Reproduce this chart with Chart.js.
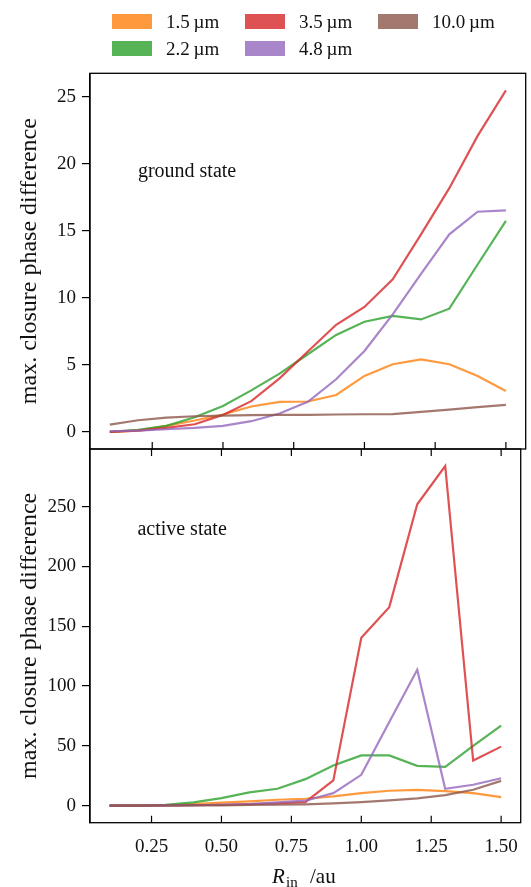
<!DOCTYPE html>
<html lang="en">
<head>
<meta charset="UTF-8">
<title>Closure phase difference vs inner radius</title>
<script src="https://cdn.jsdelivr.net/npm/chart.js"></script>
<style>
  body { margin: 0; background: #fff; }
  #wrap { position: relative; width: 531px; height: 887px; font-family: "Liberation Serif", serif; color: #111; }
  canvas { position: absolute; left: 0; }
  .sw { position: absolute; width: 40px; height: 15px; }
  .lab { position: absolute; font-size: 19px; line-height: 19px; white-space: nowrap; }
</style>
</head>
<body>
<div id="wrap">
  <canvas id="top" width="531" height="480" style="top:0"></canvas>
  <canvas id="bottom" width="531" height="467" style="top:420px"></canvas>
  <div id="legend"></div>
</div>
<script>
// inner rim radius (au)
const radii = [0.1, 0.2, 0.3, 0.4, 0.5, 0.6, 0.7, 0.8, 0.9, 1.0, 1.1, 1.2, 1.3, 1.4, 1.5];
const waves = ["1.5", "2.2", "3.5", "4.8", "10.0"];
const colors = ["255,127,14", "44,160,44", "214,39,40", "148,103,189", "140,86,75"];

// ground state
const ground15 = [0.0, 0.1, 0.45, 0.85, 1.3, 1.9, 2.24, 2.27, 2.76, 4.18, 5.05, 5.42, 5.05, 4.18, 3.06];
const ground22 = [0.0, 0.15, 0.45, 1.1, 1.94, 3.1, 4.35, 5.8, 7.24, 8.23, 8.66, 8.4, 9.2, 12.5, 15.75];
const ground35 = [0.0, 0.1, 0.3, 0.57, 1.27, 2.3, 4.0, 6.0, 8.0, 9.33, 11.4, 14.75, 18.2, 22.1, 25.5];
const ground48 = [0.05, 0.1, 0.2, 0.3, 0.45, 0.8, 1.37, 2.25, 3.93, 6.04, 8.78, 11.8, 14.75, 16.44, 16.54];
const ground100 = [0.55, 0.87, 1.07, 1.17, 1.22, 1.25, 1.27, 1.28, 1.3, 1.32, 1.33, 1.5, 1.67, 1.85, 2.02];

// active state
const active15 = [0.0, 0.3, 0.6, 1.4, 2.5, 3.6, 5.0, 5.8, 7.8, 10.5, 12.5, 13.3, 12.2, 10.5, 7.2];
const active22 = [0.0, 0.1, 0.8, 2.8, 6.4, 11.1, 14.2, 22.2, 33.6, 42.0, 42.0, 33.3, 32.5, 50.0, 67.0];
const active35 = [0.0, 0.1, 0.2, 0.4, 0.8, 1.3, 2.0, 3.0, 21.1, 140.3, 166.0, 252.0, 284.0, 37.8, 49.4];
const active48 = [0.0, 0.1, 0.2, 0.4, 0.8, 1.4, 2.8, 4.2, 10.5, 25.8, 70.0, 113.6, 14.2, 17.5, 23.0];
const active100 = [0.0, 0.0, 0.1, 0.2, 0.3, 0.6, 0.8, 1.1, 1.9, 3.0, 4.4, 6.1, 8.9, 13.3, 20.8];

const xTicks = [0.25, 0.5, 0.75, 1.0, 1.25, 1.5];
const yTicksGround = [0, 5, 10, 15, 20, 25];
const yTicksActive = [0, 50, 100, 150, 200, 250];

const FONT = '"Liberation Serif", "DejaVu Serif", serif';

// legend, filled column by column
const legend = document.getElementById("legend");
waves.forEach((w, i) => {
  const col = Math.floor(i / 2), row = i % 2;
  const sw = document.createElement("div");
  sw.className = "sw";
  sw.style.left = (112 + col * 133) + "px";
  sw.style.top = (13.5 + row * 27) + "px";
  sw.style.background = "rgba(" + colors[i] + ",0.8)";
  legend.appendChild(sw);
  const t = document.createElement("div");
  t.className = "lab";
  t.style.left = (166 + col * 133) + "px";
  t.style.top = (11.5 + row * 27) + "px";
  t.textContent = w + "\u2009\u00b5m";
  legend.appendChild(t);
});

// frame, inward x ticks, panel note and x label
const framePlugin = {
  id: "frame",
  afterDraw(chart, args, o) {
    const { ctx, chartArea: a } = chart;
    const x = chart.scales.x;
    ctx.save();
    ctx.strokeStyle = "#000";
    ctx.lineWidth = 1.3;
    ctx.strokeRect(a.left, a.top, a.right - a.left, a.bottom - a.top);
    ctx.lineWidth = 1.2;
    ctx.beginPath();
    xTicks.forEach(v => {
      const px = x.getPixelForValue(v);
      ctx.moveTo(px, a.bottom); ctx.lineTo(px, a.bottom - 7);
      if (o.tickTop) { ctx.moveTo(px, a.top); ctx.lineTo(px, a.top + 7); }
    });
    ctx.stroke();
    ctx.fillStyle = "#111";
    ctx.textBaseline = "alphabetic";
    ctx.font = "20px " + FONT;
    ctx.fillText(o.note, a.left + 0.11 * (a.right - a.left), a.bottom - o.noteY * (a.bottom - a.top));
    if (o.xLabel) {
      const y = a.bottom + 60.6;
      ctx.font = "italic 21px " + FONT;
      ctx.fillText("R", 272, y);
      ctx.font = "15px " + FONT;
      ctx.fillText("in", 286, y + 4);
      ctx.font = "21px " + FONT;
      ctx.fillText("/au", 310, y);
    }
    ctx.restore();
  }
};

function panel(id, series, yMin, yMax, yTicks, note, noteY, isBottom) {
  const canvas = document.getElementById(id);
  const datasets = series.map((s, i) => ({
    label: waves[i] + " \u00b5m",
    data: radii.map((r, k) => ({ x: r, y: s[k] })),
    borderColor: "rgba(" + colors[i] + ",0.8)",
    borderWidth: 2.2,
    pointRadius: 0,
    tension: 0,
    fill: false,
    order: series.length - i
  }));
  return new Chart(canvas, {
    type: "line",
    data: { datasets },
    plugins: [framePlugin],
    options: {
      responsive: false,
      animation: false,
      events: [],
      layout: { padding: { left: 0, right: 5.3, top: isBottom ? 29 : 73.3, bottom: 0 } },
      plugins: {
        legend: { display: false },
        tooltip: { enabled: false },
        frame: { note, noteY, tickTop: isBottom, xLabel: isBottom }
      },
      scales: {
        x: {
          type: "linear",
          min: 0.03,
          max: 1.57,
          afterFit: s => { s.height = isBottom ? 64.3 : 31; },
          afterBuildTicks: s => { s.ticks = xTicks.map(v => ({ value: v })); },
          grid: { display: false, drawTicks: false },
          border: { display: false },
          ticks: {
            display: isBottom,
            padding: 13,
            color: "#111",
            font: { family: FONT, size: 19 },
            callback: v => v.toFixed(2)
          }
        },
        y: {
          min: yMin,
          max: yMax,
          afterFit: s => { s.width = 90; },
          afterBuildTicks: s => { s.ticks = yTicks.map(v => ({ value: v })); },
          grid: { drawOnChartArea: false, drawTicks: true, tickLength: 8, color: "#000", lineWidth: 1.2 },
          border: { display: true, color: "#000", width: 1.3 },
          ticks: { padding: 6, color: "#111", font: { family: FONT, size: 19 } },
          title: {
            display: true,
            text: "max. closure phase difference",
            color: "#111",
            font: { family: FONT, size: 24 },
            padding: { top: 15, bottom: 0 }
          }
        }
      }
    }
  });
}

panel("top", [ground15, ground22, ground35, ground48, ground100], -1.275, 26.775, yTicksGround, "ground state", 0.725, false);
panel("bottom", [active15, active22, active35, active48, active100], -14.2, 298.2, yTicksActive, "active state", 0.77, true);
</script>
</body>
</html>
